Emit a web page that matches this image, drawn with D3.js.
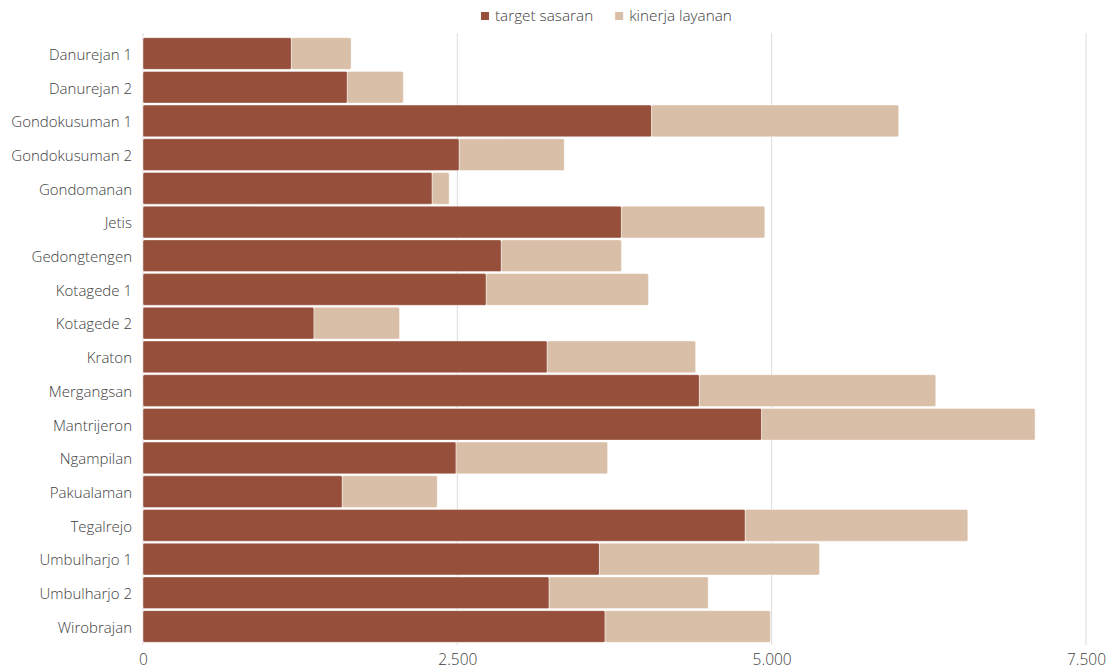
<!DOCTYPE html>
<html>
<head>
<meta charset="utf-8">
<script src="https://cdn.jsdelivr.net/npm/d3@7"></script>
<style>
  body { margin: 0; background: #fff; }
  svg { display: block; font-family: "Open Sans", sans-serif; }
</style>
</head>
<body>
<svg id="chart" width="1114" height="669"></svg>
<script>
const categories = ["Danurejan 1","Danurejan 2","Gondokusuman 1","Gondokusuman 2","Gondomanan","Jetis","Gedongtengen","Kotagede 1","Kotagede 2","Kraton","Mergangsan","Mantrijeron","Ngampilan","Pakualaman","Tegalrejo","Umbulharjo 1","Umbulharjo 2","Wirobrajan"];
const targetSasaran = [1180,1625,4045,2515,2300,3805,2850,2730,1360,3215,4425,4920,2490,1585,4790,3630,3230,3675];
const kinerjaLayanan = [475,445,1965,835,135,1140,955,1290,680,1180,1880,2175,1205,755,1770,1750,1265,1315];
const seriesNames = ["target sasaran","kinerja layanan"];
const seriesColors = ["#964f3b","#d9bfa7"];
const xTicks = [0,2500,5000,7500];

const svg = d3.select("#chart");
const margin = {top: 37, right: 28, bottom: 26, left: 143};
const W = 1114, H = 669;
const textColor = "#404040";

const x = d3.scaleLinear().domain([0,7500]).range([margin.left, 1086]);
const y = d3.scaleBand().domain(categories).range([margin.top, H - margin.bottom]).paddingInner(0.06).paddingOuter(0.02);

// gridlines
svg.append("g").selectAll("line").data(xTicks).join("line")
  .attr("x1", d => x(d)).attr("x2", d => x(d))
  .attr("y1", margin.top - 4).attr("y2", H - margin.bottom + 2)
  .attr("stroke", "#dcdcdc").attr("stroke-width", 1);

const rows = categories.map((c,i) => ({c, t: targetSasaran[i], k: kinerjaLayanan[i]}));
const stack = d3.stack().keys(["t","k"])(rows);

svg.append("g").selectAll("g").data(stack).join("g")
  .attr("fill", (d,i) => seriesColors[i])
  .selectAll("rect").data(d => d).join("rect")
  .attr("x", d => x(d[0]))
  .attr("y", d => y(d.data.c))
  .attr("width", d => x(d[1]) - x(d[0]))
  .attr("height", y.bandwidth())
  .attr("rx", 1.5)
  .attr("stroke", "#fff").attr("stroke-opacity", 0.5).attr("stroke-width", 0.8);

// y axis labels
const yAxis = d3.axisLeft(y).tickSize(0).tickPadding(11);
const gy = svg.append("g").attr("transform", `translate(${margin.left},1.5)`).call(yAxis);
gy.select(".domain").remove();
gy.selectAll("text").attr("font-size", 15).attr("font-weight", 300).attr("fill", textColor).attr("font-family", "Open Sans, sans-serif");

// x axis labels
const fmt = d => d3.format(",")(d).replace(/,/g, ".");
const xAxis = d3.axisBottom(x).tickValues(xTicks).tickSize(0).tickPadding(11).tickFormat(fmt);
const gx = svg.append("g").attr("transform", `translate(0,${H - margin.bottom})`).call(xAxis);
gx.select(".domain").remove();
gx.selectAll("text").attr("font-size", 15.5).attr("font-weight", 300).attr("fill", textColor).attr("font-family", "Open Sans, sans-serif");

// legend
const legend = svg.append("g").attr("transform", "translate(481,16)");
let lx = 0;
seriesNames.forEach((n,i) => {
  const g = legend.append("g").attr("transform", `translate(${lx},0)`);
  g.append("rect").attr("x", 0).attr("y", -4).attr("width", 8).attr("height", 8).attr("fill", seriesColors[i]);
  const t = g.append("text").attr("x", 14).attr("y", 0).attr("dy", "0.35em")
    .attr("font-size", 15.3).attr("font-weight", 300).attr("fill", textColor).text(n);
  lx += 14 + t.node().getComputedTextLength() + 22;
});
</script>
</body>
</html>
